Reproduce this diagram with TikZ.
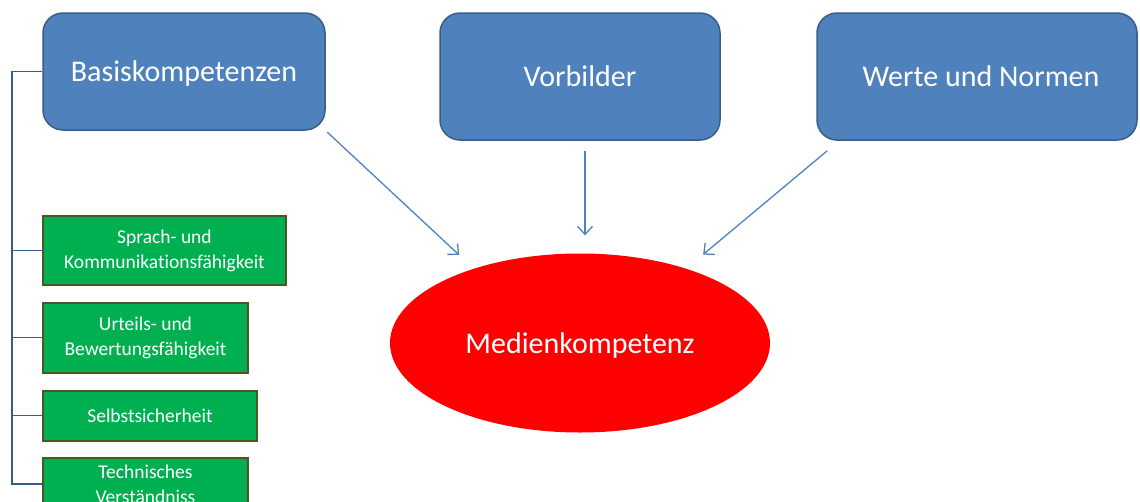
\documentclass[tikz,border=0pt]{standalone}
\usepackage{fontspec}
\setmainfont{Carlito}[Ligatures=NoCommon]
\usetikzlibrary{shapes.geometric,arrows.meta}
\definecolor{boxblue}{RGB}{79,129,189}
\definecolor{boxborder}{RGB}{56,93,138}
\definecolor{leafgreen}{RGB}{0,176,80}
\definecolor{leafborder}{RGB}{72,88,34}

\begin{document}
\begin{tikzpicture}[x=1pt,y=-1pt,
        topic/.style={rectangle, rounded corners=20pt, draw=boxborder, line width=1.5pt, fill=boxblue, text=white, inner sep=0pt, text depth=0pt, font=\fontsize{30}{34}\selectfont},
        skill/.style={rectangle, draw=leafborder, line width=2pt, fill=leafgreen, text=white, inner sep=0pt, align=center, font=\fontsize{19.5}{25}\selectfont},
        link/.style={draw=boxblue, line width=1.3pt, -{Straight Barb[length=8pt,width=15pt]}},
        rail/.style={draw=boxborder, line width=1.3pt}]
        \clip (0,0) rectangle (1140,501);

        \node[topic, minimum width=282, minimum height=117] (basis) at (184, 71.5) {Basiskompetenzen};
        \node[topic, minimum width=280, minimum height=127] (vorbild) at (580, 76.5) {Vorbilder};
        \node[topic, minimum width=320, minimum height=127] (werte) at (977, 76.5) {\hspace{8pt}Werte und Normen};

        \node[ellipse, fill=red, text=white, text depth=0pt, minimum width=380, minimum height=179, font=\fontsize{30}{34}\selectfont] (medien) at (580, 343) {Medienkompetenz};

        \node[skill, minimum width=243, minimum height=69] (sprache) at (164.5, 250.5) {Sprach- und\\Kommunikationsfähigkeit};
        \node[skill, minimum width=205, minimum height=70] (urteil) at (145.5, 337.5) {Urteils- und\\Bewertungsfähigkeit};
        \node[skill, minimum width=214, minimum height=50] (selbst) at (150, 415.5) {Selbstsicherheit};
        \node[skill, minimum width=205, minimum height=52] (technik) at (145.5, 484) {Technisches\\Verständniss};

        \coordinate (railend) at (12, 484);
        \draw[rail] (basis.west) -| (railend) -- (technik.west);
        \draw[rail] (railend |- sprache.west) -- (sprache.west);
        \draw[rail] (railend |- urteil.west) -- (urteil.west);
        \draw[rail] (railend |- selbst.west) -- (selbst.west);

        \draw[link, shorten <=2pt, shorten >=20pt] (basis.south east) -- (medien.145);
        \draw[link, shorten <=10pt, shorten >=18pt] ([xshift=5pt]vorbild.south) -- ([xshift=5pt]vorbild.south |- medien.north);
        \draw[link, shorten >=22pt] ([shift={(11,10)}]werte.south west) -- (medien.35);

    \end{tikzpicture}
\end{document}
